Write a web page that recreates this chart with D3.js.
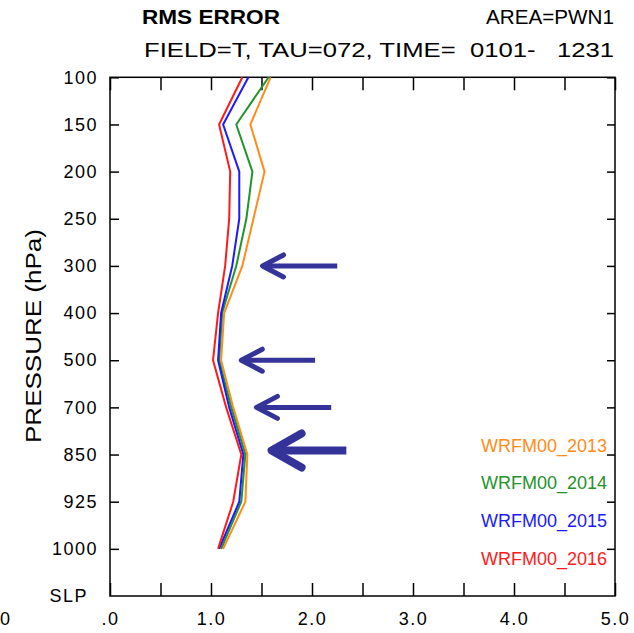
<!DOCTYPE html>
<html>
<head>
<meta charset="utf-8">
<script src="https://cdn.jsdelivr.net/npm/d3@7"></script>
<style>
  html, body { margin: 0; padding: 0; background: #ffffff; }
  svg { display: block; font-family: "Liberation Sans", Arial, sans-serif; }
</style>
</head>
<body>
<script>
// ---------- data ----------
const levels = ["100","150","200","250","300","400","500","700","850","925","1000","SLP"];
const dataLevels = ["100","150","200","250","300","400","500","700","850","925","1000"];
const xTickValues = [0,0.5,1,1.5,2,2.5,3,3.5,4,4.5,5];
const xTickLabels = [".0","","1.0","","2.0","","3.0","","4.0","","5.0"];

const seriesNames = ["WRFM00_2013","WRFM00_2014","WRFM00_2015","WRFM00_2016"];
const rms2013 = [1.59,1.39,1.53,1.42,1.31,1.13,1.10,1.22,1.36,1.34,1.12];
const rms2014 = [1.57,1.25,1.41,1.35,1.25,1.11,1.08,1.20,1.34,1.30,1.10];
const rms2015 = [1.37,1.12,1.28,1.28,1.21,1.10,1.07,1.18,1.32,1.28,1.08];
const rms2016 = [1.31,1.08,1.19,1.18,1.14,1.07,1.02,1.15,1.30,1.22,1.07];
const seriesValues = [rms2013, rms2014, rms2015, rms2016];
const seriesColors = ["#ff8c1a","#22942a","#1a1aff","#ff1a1a"];

// annotation arrows (level, tip value, tail value)
const arrowLevels = ["300","500","700","850"];
const arrowTips   = [1.51, 1.30, 1.45, 1.60];
const arrowTails  = [2.25, 2.03, 2.19, 2.34];

// ---------- layout ----------
const W = 634, H = 633;
const padL = 110, padR = 615, padT = 77.3, padB = 596;

const svg = d3.select("body").append("svg").attr("width", W).attr("height", H);

const x = d3.scaleLinear().domain([0,5]).range([padL, padR]);
const y = d3.scalePoint().domain(levels).range([padT, padB]);

// ---------- titles ----------
svg.append("text").attr("x",142).attr("y",23.5)
  .attr("font-size",21).attr("font-weight","bold")
  .attr("textLength",138).attr("lengthAdjust","spacingAndGlyphs")
  .text("RMS ERROR");
svg.append("text").attr("x",486).attr("y",23.5)
  .attr("font-size",21)
  .attr("textLength",128).attr("lengthAdjust","spacingAndGlyphs")
  .text("AREA=PWN1");
svg.append("text").attr("x",144).attr("y",57)
  .attr("font-size",21).style("white-space","pre")
  .attr("textLength",470).attr("lengthAdjust","spacingAndGlyphs")
  .text("FIELD=T, TAU=072, TIME=  0101-   1231");

// ---------- axes ----------
const tickFont = g => g.attr("font-family","Liberation Sans, Arial, sans-serif")
  .attr("font-size",18).attr("fill","#000");

// left axis
const gLeft = svg.append("g").attr("transform",`translate(${padL},0)`)
  .call(d3.axisLeft(y).tickSize(-9).tickPadding(12))
  .call(tickFont);
gLeft.select(".domain").remove();
gLeft.selectAll(".tick line").attr("stroke","#000").attr("stroke-width",1.5);
gLeft.selectAll(".tick text").attr("fill","#000").style("letter-spacing","1.5px");
gLeft.selectAll(".tick").filter(d => d === "SLP").each(function() {
  d3.select(this).select("line").remove();
  d3.select(this).select("text").attr("x",-22);
});

// right axis
const gRight = svg.append("g").attr("transform",`translate(${padR},0)`)
  .call(d3.axisRight(y).tickValues(dataLevels).tickSize(-8).tickFormat(""));
gRight.select(".domain").remove();
gRight.selectAll(".tick line").attr("stroke","#000").attr("stroke-width",1.5);

// bottom axis
const gBottom = svg.append("g").attr("transform",`translate(0,${padB})`)
  .call(d3.axisBottom(x).tickValues(xTickValues).tickSize(-13).tickPadding(16)
    .tickFormat((d,i) => xTickLabels[i]))
  .call(tickFont);
gBottom.select(".domain").remove();
gBottom.selectAll(".tick line").attr("stroke","#000").attr("stroke-width",1.5);
gBottom.selectAll(".tick text").attr("fill","#000").style("letter-spacing","1.5px");

// top axis
const gTop = svg.append("g").attr("transform",`translate(0,${padT})`)
  .call(d3.axisTop(x).tickValues(xTickValues).tickSize(-13).tickFormat(""));
gTop.select(".domain").remove();
gTop.selectAll(".tick line").attr("stroke","#000").attr("stroke-width",1.5);

// label of neighbouring panel at far left
svg.append("text").attr("x",0).attr("y",625).attr("text-anchor","start")
  .attr("font-size",18).text("0");

// frame
svg.append("rect").attr("x",x(0)).attr("y",y(levels[0]))
  .attr("width",x(5)-x(0)).attr("height",y("SLP")-y(levels[0]))
  .attr("fill","none").attr("stroke","#000").attr("stroke-width",1.5);

// y axis title
svg.append("text")
  .attr("transform","translate(41,336) rotate(-90)")
  .attr("text-anchor","middle").attr("font-size",22)
  .attr("textLength",214).attr("lengthAdjust","spacingAndGlyphs")
  .text("PRESSURE (hPa)");

// ---------- series lines ----------
const line = d3.line().x(d => x(d.v)).y(d => y(d.l));
seriesValues.forEach((vals, si) => {
  const pts = dataLevels.map((l, i) => ({l, v: vals[i]}));
  svg.append("path").datum(pts)
    .attr("d", line)
    .attr("fill","none")
    .attr("stroke", seriesColors[si])
    .attr("stroke-width",2)
    .attr("stroke-linejoin","round");
});

// ---------- legend ----------
seriesNames.forEach((name, i) => {
  svg.append("text")
    .attr("x",607).attr("y",451.5 + i*37.8)
    .attr("text-anchor","end").attr("font-size",18)
    .attr("fill", seriesColors[i])
    .text(name);
});

// ---------- arrows ----------
arrowLevels.forEach((lv, i) => {
  const big = i === 3;
  const yy = y(lv) - (big ? 4 : 0);
  const tip = x(arrowTips[i]), tail = x(arrowTails[i]);
  const hl = big ? 30 : 21, hh = big ? 17 : 11;
  const g = svg.append("g").attr("stroke","#333399").attr("fill","none")
    .attr("stroke-linecap","round").attr("stroke-linejoin","round")
    .attr("stroke-width", big ? 8 : 5);
  g.append("line").attr("x1",tip+2).attr("y1",yy).attr("x2",tail).attr("y2",yy)
    .attr("stroke-linecap","butt");
  g.append("path").attr("d",`M${tip+hl},${yy-hh} L${tip},${yy} L${tip+hl},${yy+hh}`);
});
</script>
</body>
</html>
